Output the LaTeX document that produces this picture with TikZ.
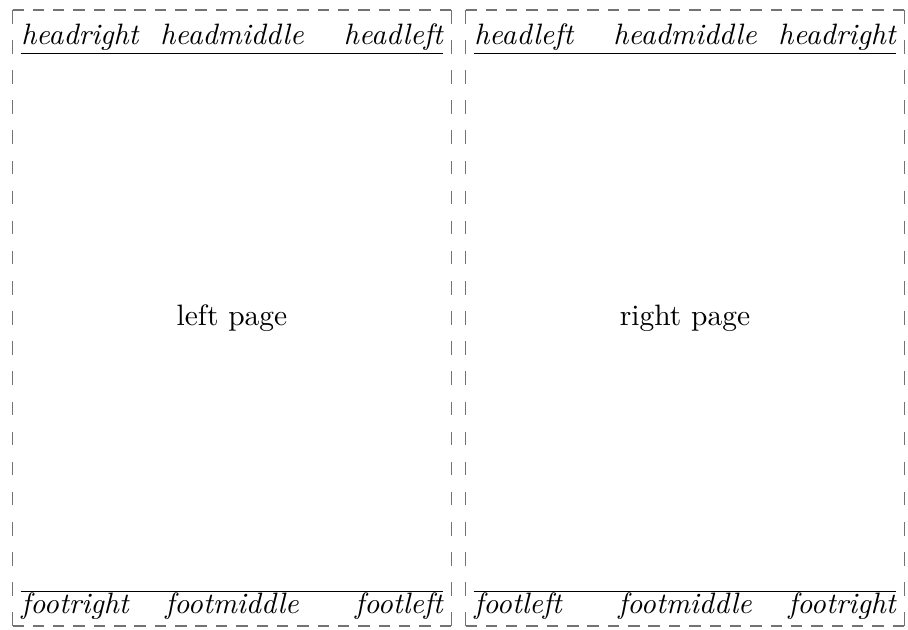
\documentclass[tikz,border=0pt]{standalone}
\usepackage{tikz}

\tikzset{
    hframe/.style={black!55, line width=0.5pt, dash pattern=on 3.9pt off 3pt, dash phase=0.15pt},
    vframe/.style={black!55, line width=0.5pt, dash pattern=on 4.6pt off 5.61pt},
    pagerule/.style={black, line width=0.45pt},
    runtext/.style={font=\itshape, inner sep=0pt}
}

\begin{document}
\begin{tikzpicture}[x=0.339pt, y=-0.339pt]
\useasboundingbox (0,0) rectangle (908,630);

% two facing pages, the head and foot mirrored
\foreach \pg/\xo/\a/\b/\txt in {L/0/right/left/left page, R/453/left/right/right page} {
    % dashed page frame
    \coordinate (\pg-nw) at (\xo+12.7,10);
    \coordinate (\pg-ne) at (\xo+451.3,10);
    \coordinate (\pg-sw) at (\xo+12.7,626);
    \coordinate (\pg-se) at (\xo+451.3,626);
    \draw[hframe] (\pg-nw) -- (\pg-ne);
    \draw[hframe] (\pg-sw) -- (\pg-se);
    \draw[vframe] (\pg-nw) -- (\pg-sw);
    \draw[vframe] (\pg-ne) -- (\pg-se);

    % head
    \node[runtext, anchor=base west] (\pg-head1) at (\xo+20.7,45) {head\a};
    \node[runtext, anchor=base] (\pg-head2) at (\xo+232,45) {headmiddle};
    \node[runtext, anchor=base east] (\pg-head3) at (\xo+443.3,45) {head\b};
    \coordinate (\pg-hrl) at (\xo+20.7,53.3);
    \coordinate (\pg-hrr) at (\xo+443.3,53.3);
    \draw[pagerule] (\pg-hrl) -- (\pg-hrr);

    % foot
    \coordinate (\pg-frl) at (\xo+20.7,591.7);
    \coordinate (\pg-frr) at (\xo+443.3,591.7);
    \draw[pagerule] (\pg-frl) -- (\pg-frr);
    \node[runtext, anchor=base west] (\pg-foot1) at (\xo+20.7,613.3) {foot\a};
    \node[runtext, anchor=base] (\pg-foot2) at (\xo+232,613.3) {footmiddle};
    \node[runtext, anchor=base east] (\pg-foot3) at (\xo+443.3,613.3) {foot\b};

    % body
    \node (\pg-body) at (\xo+232,318) {\txt};
}
\end{tikzpicture}
\end{document}
